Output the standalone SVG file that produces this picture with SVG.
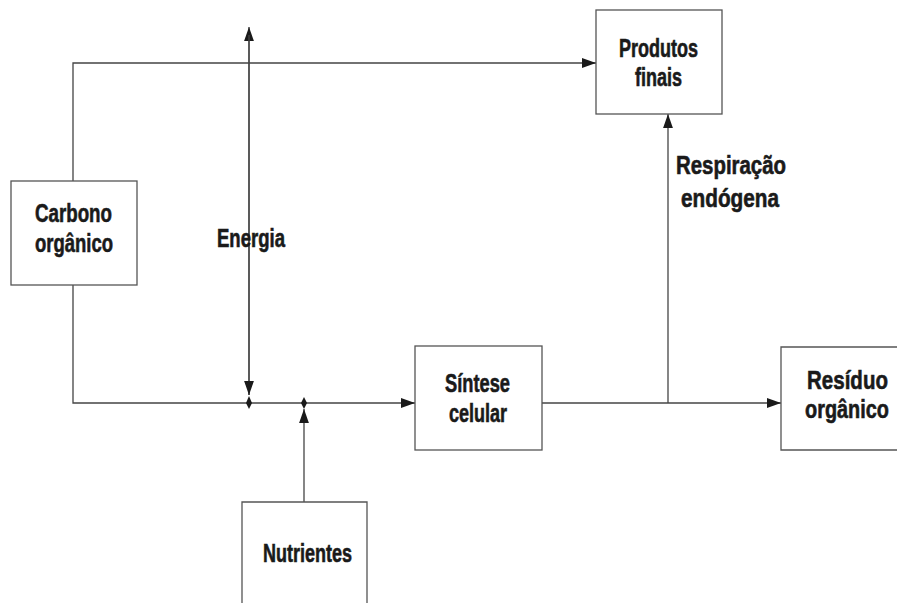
<svg xmlns="http://www.w3.org/2000/svg" width="897" height="603" viewBox="0 0 897 603">
<style>
.box{fill:#fff;stroke:#555;stroke-width:1.3}
.ln{fill:none;stroke:#444;stroke-width:1.3}
.t{font-family:"Liberation Sans",Arial,sans-serif;font-weight:bold;font-size:25px;fill:#1a1a1a;stroke:#1a1a1a;stroke-width:0.6}
.c{text-anchor:middle}
</style>
<defs>
<marker id="ar" viewBox="0 0 10 10" refX="10" refY="5" markerWidth="14" markerHeight="14" markerUnits="userSpaceOnUse" orient="auto">
<path d="M0,1.5 L10,5 L0,8.5 Z" fill="#1a1a1a"/>
</marker>
</defs>
<rect width="897" height="603" fill="#fff"/>
<g id="connectors">
<path class="ln" d="M73,181 V63 H596" marker-end="url(#ar)"/>
<path class="ln" d="M73,285 V403 H415" marker-end="url(#ar)"/>
<path class="ln" d="M542,403 H781" marker-end="url(#ar)"/>
<path class="ln" d="M668,403 V114" marker-end="url(#ar)"/>
<path class="ln" d="M249,395 V27" marker-end="url(#ar)"/>
<path class="ln" d="M249,35 V395" marker-end="url(#ar)"/>
<path class="ln" d="M304,502 V409" marker-end="url(#ar)"/>
<path d="M249,396 L252,403 L249,409 L246,403 Z" fill="#1a1a1a"/>
<path d="M304,397 L307,403 L304,409 L301,403 Z" fill="#1a1a1a"/>
</g>
<g id="carbono">
<rect class="box" x="11" y="181" width="126" height="104"/>
<text class="t" x="35" y="222" textLength="77" lengthAdjust="spacingAndGlyphs">Carbono</text>
<text class="t" x="35" y="252" textLength="78" lengthAdjust="spacingAndGlyphs">orgânico</text>
</g>
<g id="produtos">
<rect class="box" x="596" y="10" width="126" height="104"/>
<text class="t" x="619" y="57" textLength="79" lengthAdjust="spacingAndGlyphs">Produtos</text>
<text class="t" x="635" y="86" textLength="47" lengthAdjust="spacingAndGlyphs">finais</text>
</g>
<g id="sintese">
<rect class="box" x="415" y="346" width="127" height="104"/>
<text class="t" x="445" y="392" textLength="65" lengthAdjust="spacingAndGlyphs">Síntese</text>
<text class="t" x="449" y="422" textLength="58" lengthAdjust="spacingAndGlyphs">celular</text>
</g>
<g id="residuo">
<path class="box" d="M897,347 H781 V450 H897"/>
<text class="t c" transform="translate(847.5,389) scale(0.82,1)">Resíduo</text>
<text class="t c" transform="translate(847,418) scale(0.795,1)">orgânico</text>
</g>
<g id="nutrientes">
<path class="box" d="M242,603 V502 H367 V603"/>
<text class="t" x="263" y="562" textLength="89" lengthAdjust="spacingAndGlyphs">Nutrientes</text>
</g>
<g id="labels">
<text class="t" x="217" y="247" textLength="68" lengthAdjust="spacingAndGlyphs">Energia</text>
<text class="t" x="676" y="174" textLength="110" lengthAdjust="spacingAndGlyphs">Respiração</text>
<text class="t" x="681" y="207" textLength="98" lengthAdjust="spacingAndGlyphs">endógena</text>
</g>
</svg>
